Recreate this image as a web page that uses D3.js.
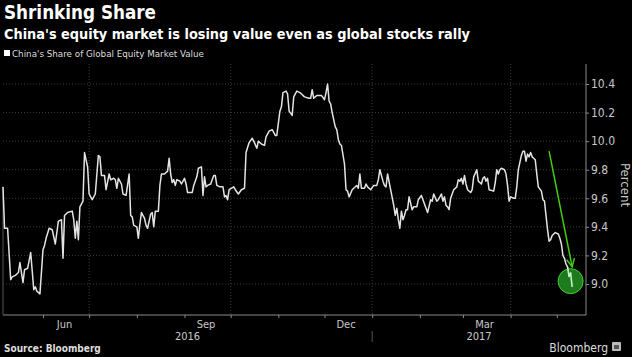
<!DOCTYPE html>
<html><head><meta charset="utf-8">
<script src="https://cdn.jsdelivr.net/npm/d3@7/dist/d3.min.js"></script>
<style>
html,body{margin:0;padding:0;background:#000;}
svg{display:block;}
</style></head>
<body>
<svg id="chart" width="632" height="357"></svg>
<script>
const titleText = "Shrinking Share";
const subtitleText = "China's equity market is losing value even as global stocks rally";
const legendLabel = "China's Share of Global Equity Market Value";
const sourceText = "Source: Bloomberg";
const brandText = "Bloomberg";
const yAxisTitle = "Percent";

const yTicks = [9.0, 9.2, 9.4, 9.6, 9.8, 10.0, 10.2, 10.4];
const monthLabels = [["2016-06-15","Jun"],["2016-09-15","Sep"],["2016-12-15","Dec"],["2017-03-15","Mar"]];
const yearLabels = ["2016","2017"];

const dates = [
"2016-05-06","2016-05-07","2016-05-09","2016-05-11","2016-05-12","2016-05-14","2016-05-16","2016-05-17","2016-05-19","2016-05-20",
"2016-05-22","2016-05-24","2016-05-26","2016-05-27","2016-05-28","2016-05-30","2016-06-01","2016-06-02","2016-06-03","2016-06-05",
"2016-06-07","2016-06-09","2016-06-11","2016-06-13","2016-06-14","2016-06-15","2016-06-17","2016-06-20","2016-06-21","2016-06-22",
"2016-06-23","2016-06-24","2016-06-25","2016-06-27","2016-06-28","2016-06-30","2016-07-01","2016-07-03","2016-07-05","2016-07-07",
"2016-07-08","2016-07-09","2016-07-11","2016-07-12","2016-07-14","2016-07-15","2016-07-17","2016-07-18","2016-07-19","2016-07-20",
"2016-07-22","2016-07-23","2016-07-25","2016-07-27","2016-07-28","2016-07-29","2016-07-30","2016-08-01","2016-08-02","2016-08-03",
"2016-08-04","2016-08-06","2016-08-07","2016-08-08","2016-08-10","2016-08-11","2016-08-12","2016-08-13","2016-08-15","2016-08-16",
"2016-08-17","2016-08-19","2016-08-21","2016-08-22","2016-08-23","2016-08-24","2016-08-25","2016-08-26","2016-08-27","2016-08-29",
"2016-08-30","2016-09-01","2016-09-02","2016-09-03","2016-09-06","2016-09-07","2016-09-09","2016-09-10","2016-09-12","2016-09-13",
"2016-09-14","2016-09-15","2016-09-16","2016-09-18","2016-09-20","2016-09-21","2016-09-22","2016-09-24","2016-09-26","2016-09-27",
"2016-09-28","2016-09-29","2016-09-30","2016-10-03","2016-10-04","2016-10-06","2016-10-08","2016-10-10","2016-10-11","2016-10-13",
"2016-10-15","2016-10-16","2016-10-18","2016-10-19","2016-10-21","2016-10-23","2016-10-24","2016-10-26","2016-10-28","2016-10-30",
"2016-10-31","2016-11-02","2016-11-03","2016-11-04","2016-11-06","2016-11-07","2016-11-08","2016-11-10","2016-11-11","2016-11-13",
"2016-11-15","2016-11-18","2016-11-21","2016-11-22","2016-11-23","2016-11-24","2016-11-26","2016-11-28","2016-11-29","2016-12-01",
"2016-12-02","2016-12-03","2016-12-04","2016-12-05","2016-12-06","2016-12-08","2016-12-09","2016-12-10","2016-12-11","2016-12-12",
"2016-12-14","2016-12-15","2016-12-16","2016-12-17","2016-12-19","2016-12-20","2016-12-22","2016-12-23","2016-12-24","2016-12-25",
"2016-12-27","2016-12-28","2016-12-29","2016-12-31","2017-01-02","2017-01-04","2017-01-05","2017-01-06","2017-01-08","2017-01-09",
"2017-01-10","2017-01-11","2017-01-13","2017-01-15","2017-01-16","2017-01-17","2017-01-18","2017-01-19","2017-01-20","2017-01-21",
"2017-01-22","2017-01-23","2017-01-24","2017-01-25","2017-01-27","2017-01-28","2017-01-30","2017-01-31","2017-02-02","2017-02-03",
"2017-02-05","2017-02-06","2017-02-08","2017-02-09","2017-02-10","2017-02-12","2017-02-13","2017-02-15","2017-02-16","2017-02-17",
"2017-02-18","2017-02-19","2017-02-20","2017-02-21","2017-02-23","2017-02-25","2017-02-26","2017-02-27","2017-02-28","2017-03-01",
"2017-03-02","2017-03-03","2017-03-04","2017-03-06","2017-03-07","2017-03-08","2017-03-10","2017-03-11","2017-03-13","2017-03-14",
"2017-03-15","2017-03-16","2017-03-17","2017-03-18","2017-03-21","2017-03-22","2017-03-23","2017-03-24","2017-03-25","2017-03-26",
"2017-03-28","2017-03-29","2017-03-30","2017-03-31","2017-04-01","2017-04-03","2017-04-04","2017-04-05","2017-04-06","2017-04-08",
"2017-04-09","2017-04-10","2017-04-11","2017-04-12","2017-04-13","2017-04-14","2017-04-15","2017-04-16","2017-04-17","2017-04-18",
"2017-04-19","2017-04-21","2017-04-22","2017-04-23","2017-04-24","2017-04-25","2017-04-26","2017-04-27","2017-04-28","2017-04-30",
"2017-05-02","2017-05-03","2017-05-04","2017-05-05","2017-05-06","2017-05-07","2017-05-08","2017-05-09","2017-05-10","2017-05-11"
];
const values = [
9.68,9.39,9.39,9.03,9.05,9.06,9.08,9.15,9.01,9.10,
9.11,9.22,8.96,8.98,8.95,8.93,9.24,9.27,9.32,9.39,
9.38,9.28,9.44,9.45,9.18,9.48,9.50,9.51,9.45,9.32,
9.44,9.31,9.54,9.58,9.92,9.82,9.63,9.59,9.63,9.90,
9.89,9.76,9.76,9.66,9.77,9.73,9.74,9.73,9.67,9.74,
9.70,9.63,9.62,9.77,9.48,9.47,9.41,9.40,9.32,9.42,
9.50,9.46,9.41,9.39,9.49,9.50,9.40,9.51,9.51,9.69,
9.77,9.77,9.79,9.88,9.77,9.71,9.73,9.69,9.73,9.72,
9.70,9.74,9.70,9.64,9.64,9.69,9.75,9.81,9.82,9.62,
9.75,9.68,9.69,9.70,9.76,9.76,9.69,9.68,9.68,9.61,
9.62,9.59,9.66,9.68,9.66,9.63,9.66,9.67,9.92,9.99,
10.02,10.00,9.95,10.00,9.98,9.97,10.03,10.07,10.08,10.04,
10.04,10.21,10.24,10.34,10.35,10.33,10.21,10.18,10.31,10.35,
10.34,10.31,10.30,10.30,10.36,10.30,10.32,10.32,10.32,10.29,
10.34,10.40,10.28,10.26,10.20,10.10,10.08,10.01,9.98,9.97,
9.84,9.66,9.65,9.61,9.66,9.67,9.69,9.67,9.77,9.67,
9.67,9.70,9.68,9.66,9.69,9.69,9.73,9.80,9.72,9.69,
9.68,9.77,9.66,9.55,9.48,9.53,9.45,9.39,9.51,9.45,
9.48,9.52,9.52,9.61,9.52,9.54,9.54,9.59,9.62,9.59,
9.53,9.50,9.59,9.58,9.63,9.58,9.59,9.63,9.58,9.61,
9.55,9.54,9.52,9.60,9.66,9.68,9.73,9.72,9.74,9.70,
9.76,9.70,9.66,9.64,9.66,9.75,9.80,9.72,9.70,9.74,
9.75,9.72,9.74,9.66,9.65,9.71,9.80,9.77,9.80,9.81,
9.80,9.77,9.69,9.58,9.61,9.60,9.60,9.68,9.80,9.90,
9.93,9.93,9.86,9.91,9.89,9.92,9.89,9.88,9.87,9.77,
9.68,9.65,9.59,9.58,9.48,9.38,9.30,9.31,9.34,9.36,
9.35,9.32,9.28,9.20,9.18,9.14,9.12,9.05,9.08,8.98
];
// annotation (data space): arrow start/end and highlighted point
const arrowFrom = ["2017-04-26", 9.93];
const arrowTo = ["2017-05-11", 9.12];
const circleAt = ["2017-05-10", 9.02];

const parse = d3.timeParse("%Y-%m-%d");
const data = dates.map((d,i)=>({date:parse(d), value:values[i]}));

const svg = d3.select("#chart");
const W = 632, H = 357;
const fontCond = "'DejaVu Sans Condensed','Liberation Sans Narrow',sans-serif";

svg.append("rect").attr("width",W).attr("height",H).attr("fill","#000");

const plot = {left:3, right:586, top:64, bottom:315};
const x = d3.scaleTime()
  .domain([parse("2016-05-06"), parse("2017-05-20")])
  .range([plot.left, plot.right]);
const y = d3.scaleLinear()
  .domain([8.783, 10.54])
  .range([plot.bottom, plot.top]);

// Titles
svg.append("text").attr("x",4).attr("y",19).text(titleText)
  .attr("fill","#fff").attr("font-family",fontCond).attr("font-weight","bold")
  .attr("font-size",19).attr("textLength",152).attr("lengthAdjust","spacingAndGlyphs");
svg.append("text").attr("x",4).attr("y",39).text(subtitleText)
  .attr("fill","#fff").attr("font-family",fontCond).attr("font-weight","bold")
  .attr("font-size",14.5).attr("textLength",466).attr("lengthAdjust","spacingAndGlyphs");
// legend
svg.append("rect").attr("x",4).attr("y",50).attr("width",6).attr("height",6).attr("fill","#fff");
svg.append("text").attr("x",12).attr("y",57).text(legendLabel)
  .attr("fill","#ddd").attr("font-family",fontCond).attr("font-size",9.5)
  .attr("textLength",192).attr("lengthAdjust","spacingAndGlyphs");

// horizontal grid
const gGrid = svg.append("g");
gGrid.selectAll("line.h").data(yTicks).join("line")
  .attr("x1",plot.left).attr("x2",plot.right)
  .attr("y1",d=>y(d)).attr("y2",d=>y(d))
  .attr("stroke","#3a3a3a").attr("stroke-width",1).attr("stroke-dasharray","1,2");
// vertical grid at quarter starts
const quarterStarts = d3.timeMonth.range(parse("2016-06-01"), parse("2017-05-20"))
  .filter(d=>[0,3,6,9].includes(d.getMonth()));
gGrid.selectAll("line.v").data(quarterStarts).join("line")
  .attr("x1",d=>x(d)).attr("x2",d=>x(d))
  .attr("y1",plot.top).attr("y2",plot.bottom)
  .attr("stroke","#3a3a3a").attr("stroke-width",1).attr("stroke-dasharray","1,2");

// right y axis
const yAxis = d3.axisRight(y).tickValues(yTicks).tickFormat(d3.format(".1f")).tickSize(3).tickPadding(2);
const gy = svg.append("g").attr("transform",`translate(${plot.right},0)`).call(yAxis);
gy.select(".domain").attr("stroke","#8a8a8a").attr("d",`M0,${plot.top}V${plot.bottom}`);
gy.selectAll(".tick line").attr("stroke","#8a8a8a");
gy.selectAll(".tick text").attr("fill","#c8c8c8").attr("font-family",fontCond).attr("font-size",12);
svg.append("text").text(yAxisTitle)
  .attr("transform",`translate(${plot.right+35},${(y(9.6)+y(9.8))/2+1}) rotate(90)`)
  .attr("text-anchor","middle").attr("fill","#c8c8c8").attr("font-family",fontCond).attr("font-size",13);

// bottom x axis
const months = d3.timeMonth.range(parse("2016-06-01"), parse("2017-05-20"));
const xAxis = d3.axisBottom(x).tickValues(months).tickFormat("").tickSize(3);
const gx = svg.append("g").attr("transform",`translate(0,${plot.bottom})`).call(xAxis);
gx.select(".domain").attr("stroke","#8a8a8a").attr("d",`M${plot.left},0H${plot.right}`);
gx.selectAll(".tick line").attr("stroke","#8a8a8a");
svg.append("g").selectAll("text").data(monthLabels).join("text")
  .attr("x",d=>x(parse(d[0]))).attr("y",plot.bottom+13)
  .attr("text-anchor","middle").text(d=>d[1])
  .attr("fill","#c8c8c8").attr("font-family",fontCond).attr("font-size",11);
const yearBound = parse("2017-01-01");
const yearCenters = [(plot.left + x(yearBound))/2, (x(yearBound)+plot.right)/2];
svg.append("g").selectAll("text").data(yearLabels).join("text")
  .attr("x",(d,i)=>yearCenters[i]).attr("y",plot.bottom+25)
  .attr("text-anchor","middle").text(d=>d)
  .attr("fill","#c8c8c8").attr("font-family",fontCond).attr("font-size",11);
svg.append("line").attr("x1",x(yearBound)).attr("x2",x(yearBound))
  .attr("y1",plot.bottom+16).attr("y2",plot.bottom+27).attr("stroke","#555");

// left drop line
svg.append("line").attr("x1",x(data[0].date)).attr("x2",x(data[0].date))
  .attr("y1",y(values[0])).attr("y2",plot.bottom).attr("stroke","#555");

// data line
const line = d3.line().x(d=>x(d.date)).y(d=>y(d.value));
svg.append("path").datum(data).attr("d",line)
  .attr("fill","none").attr("stroke","#e4e4e4").attr("stroke-width",1.5).attr("stroke-linejoin","round");

// annotation
const cx = x(parse(circleAt[0])), cy = y(circleAt[1]);
svg.append("circle").attr("cx",cx).attr("cy",cy).attr("r",12.5)
  .attr("fill","rgba(40,170,40,0.72)").attr("stroke","#3fd12a").attr("stroke-width",1);
svg.append("path").datum(data.slice(-4)).attr("d",line)
  .attr("fill","none").attr("stroke","rgba(230,255,230,0.8)").attr("stroke-width",1.4);
const ax1 = x(parse(arrowFrom[0])), ay1 = y(arrowFrom[1]);
const ax2 = x(parse(arrowTo[0])), ay2 = y(arrowTo[1]);
svg.append("line").attr("x1",ax1).attr("y1",ay1).attr("x2",ax2).attr("y2",ay2)
  .attr("stroke","#44cc11").attr("stroke-width",1.5);
const ang = Math.atan2(ay2-ay1, ax2-ax1);
const hl = 9, ha = 0.45;
const head = [
  [ax2 - hl*Math.cos(ang-ha), ay2 - hl*Math.sin(ang-ha)],
  [ax2, ay2],
  [ax2 - hl*Math.cos(ang+ha), ay2 - hl*Math.sin(ang+ha)]
];
svg.append("path").attr("d", d3.line()(head)).attr("fill","none")
  .attr("stroke","#44cc11").attr("stroke-width",1.5);

// footer
svg.append("text").attr("x",4).attr("y",352).text(sourceText)
  .attr("fill","#ddd").attr("font-family",fontCond).attr("font-weight","bold").attr("font-size",10);
svg.append("text").attr("x",608).attr("y",352).attr("text-anchor","end").text(brandText)
  .attr("fill","#ddd").attr("font-family",fontCond).attr("font-size",12);
svg.append("rect").attr("x",612).attr("y",342).attr("width",9).attr("height",9).attr("rx",1).attr("fill","#bbb");
svg.append("rect").attr("x",614).attr("y",345).attr("width",5).attr("height",4).attr("fill","#555");
</script>
</body></html>
